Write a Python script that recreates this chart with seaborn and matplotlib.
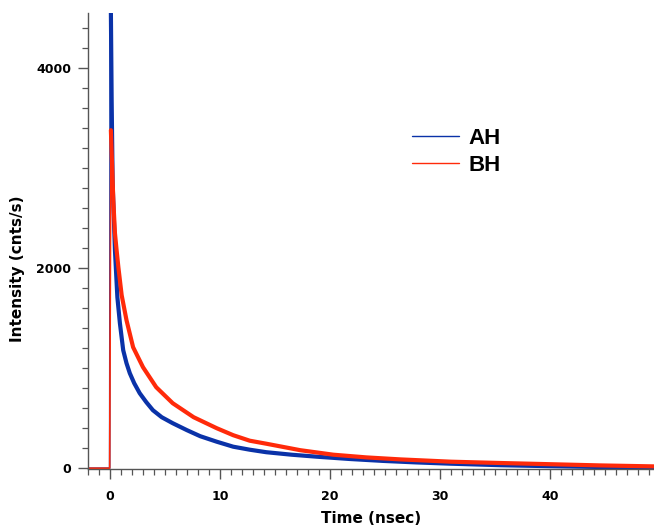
import numpy as np
import pandas as pd
import matplotlib
matplotlib.use("Agg")
import matplotlib.pyplot as plt
from matplotlib.lines import Line2D
from matplotlib.ticker import MultipleLocator
import seaborn as sns

# ---- data ----
t_ah = [-2.0, -0.03, 0.03, 0.15, 0.24, 0.45, 0.67, 0.9, 1.2, 1.5, 1.8, 2.2, 2.7,
        3.3, 3.9, 4.7, 5.7, 7.0, 8.2, 9.7, 11.2, 12.7, 14.2, 16.5, 18.8, 21.8,
        24.8, 27.8, 31.0, 35.5, 40.0, 44.5, 49.5]
i_ah = [0, 0, 5200, 3680, 2850, 2180, 1710, 1450, 1180, 1050, 950, 850, 750,
        660, 580, 510, 450, 380, 320, 265, 215, 185, 160, 135, 115, 92,
        73, 58, 45, 30, 20, 12, 6]

t_bh = [-2.0, -0.03, 0.08, 0.3, 0.45, 0.6, 0.76, 1.06, 1.5, 2.1, 3.0, 4.2, 5.7,
        7.6, 9.7, 11.2, 12.7, 14.2, 17.3, 20.3, 23.3, 26.4, 31.0, 35.5, 40.0,
        44.5, 49.5]
i_bh = [0, 0, 3380, 2680, 2350, 2180, 2010, 1730, 1480, 1210, 1010, 810, 650,
        510, 400, 330, 275, 245, 180, 135, 108, 88, 65, 52, 40,
        28, 18]

series_names = ["AH", "BH"]
colors = {"AH": "#0a32a8", "BH": "#ff2a0a"}
x_ticks = [0, 10, 20, 30, 40]
y_ticks = [0, 2000, 4000]

sns.set_theme(style="ticks")
plt.rcParams["font.family"] = ["DejaVu Sans"]
plt.rcParams["text.color"] = "black"

fig = plt.figure(figsize=(6.54, 5.29), dpi=100)
ax = fig.add_axes([88 / 654, 1 - 469 / 529, 1 - 88 / 654, (469 - 13) / 529])

df_ah = pd.DataFrame({"t": t_ah, "I": i_ah, "s": "AH"})
df_bh = pd.DataFrame({"t": t_bh, "I": i_bh, "s": "BH"})

# AH first, BH drawn on top
for df in (df_ah, df_bh):
    name = df["s"].iloc[0]
    # baseline + sharp rise: thin
    sns.lineplot(data=df.iloc[:4], x="t", y="I", color=colors[name], lw=1.2,
                 ax=ax, legend=False, sort=False, estimator=None)
    # noisy decay: thick band
    sns.lineplot(data=df.iloc[2:], x="t", y="I", color=colors[name], lw=3.0,
                 ax=ax, legend=False, sort=False, estimator=None,
                 solid_joinstyle="round")

ax.set_xlim(-2.0, 49.45)
ax.set_ylim(-8, 4552)
ax.set_xticks(x_ticks)
ax.set_yticks(y_ticks)
ax.xaxis.set_minor_locator(MultipleLocator(1))
ax.yaxis.set_minor_locator(MultipleLocator(200))

for s in ["top", "right"]:
    ax.spines[s].set_visible(False)
for s in ["left", "bottom"]:
    ax.spines[s].set_color("#555555")
    ax.spines[s].set_linewidth(1.0)

ax.tick_params(axis="both", which="major", length=7, width=1.0, color="#555555",
               labelsize=9, labelcolor="black", direction="out")
ax.tick_params(axis="both", which="minor", length=4, width=0.9, color="#555555",
               direction="out")
ax.tick_params(axis="x", which="major", pad=8)
ax.tick_params(axis="y", which="major", pad=5)
for lab in ax.get_xticklabels() + ax.get_yticklabels():
    lab.set_fontweight("bold")

ax.set_xlabel("Time (nsec)", fontsize=11, fontweight="bold", color="black",
              labelpad=6)
ax.set_ylabel("Intensity (cnts/s)", fontsize=11, fontweight="bold",
              color="black", labelpad=3)
ax.yaxis.set_label_coords(-0.112, (469 - 269) / 456)

handles = [Line2D([], [], color=colors[n], lw=1.0) for n in series_names]
leg = fig.legend(handles, series_names, loc="upper left",
                 bbox_to_anchor=(412 / 654, 1 - 128 / 529),
                 frameon=False, handlelength=2.1, handletextpad=0.45,
                 labelspacing=0.27, borderpad=0, borderaxespad=0,
                 prop={"family": "Liberation Sans", "weight": "bold", "size": 16})
for txt in leg.get_texts():
    txt.set_color("black")

fig.savefig("out.png", dpi=100)
